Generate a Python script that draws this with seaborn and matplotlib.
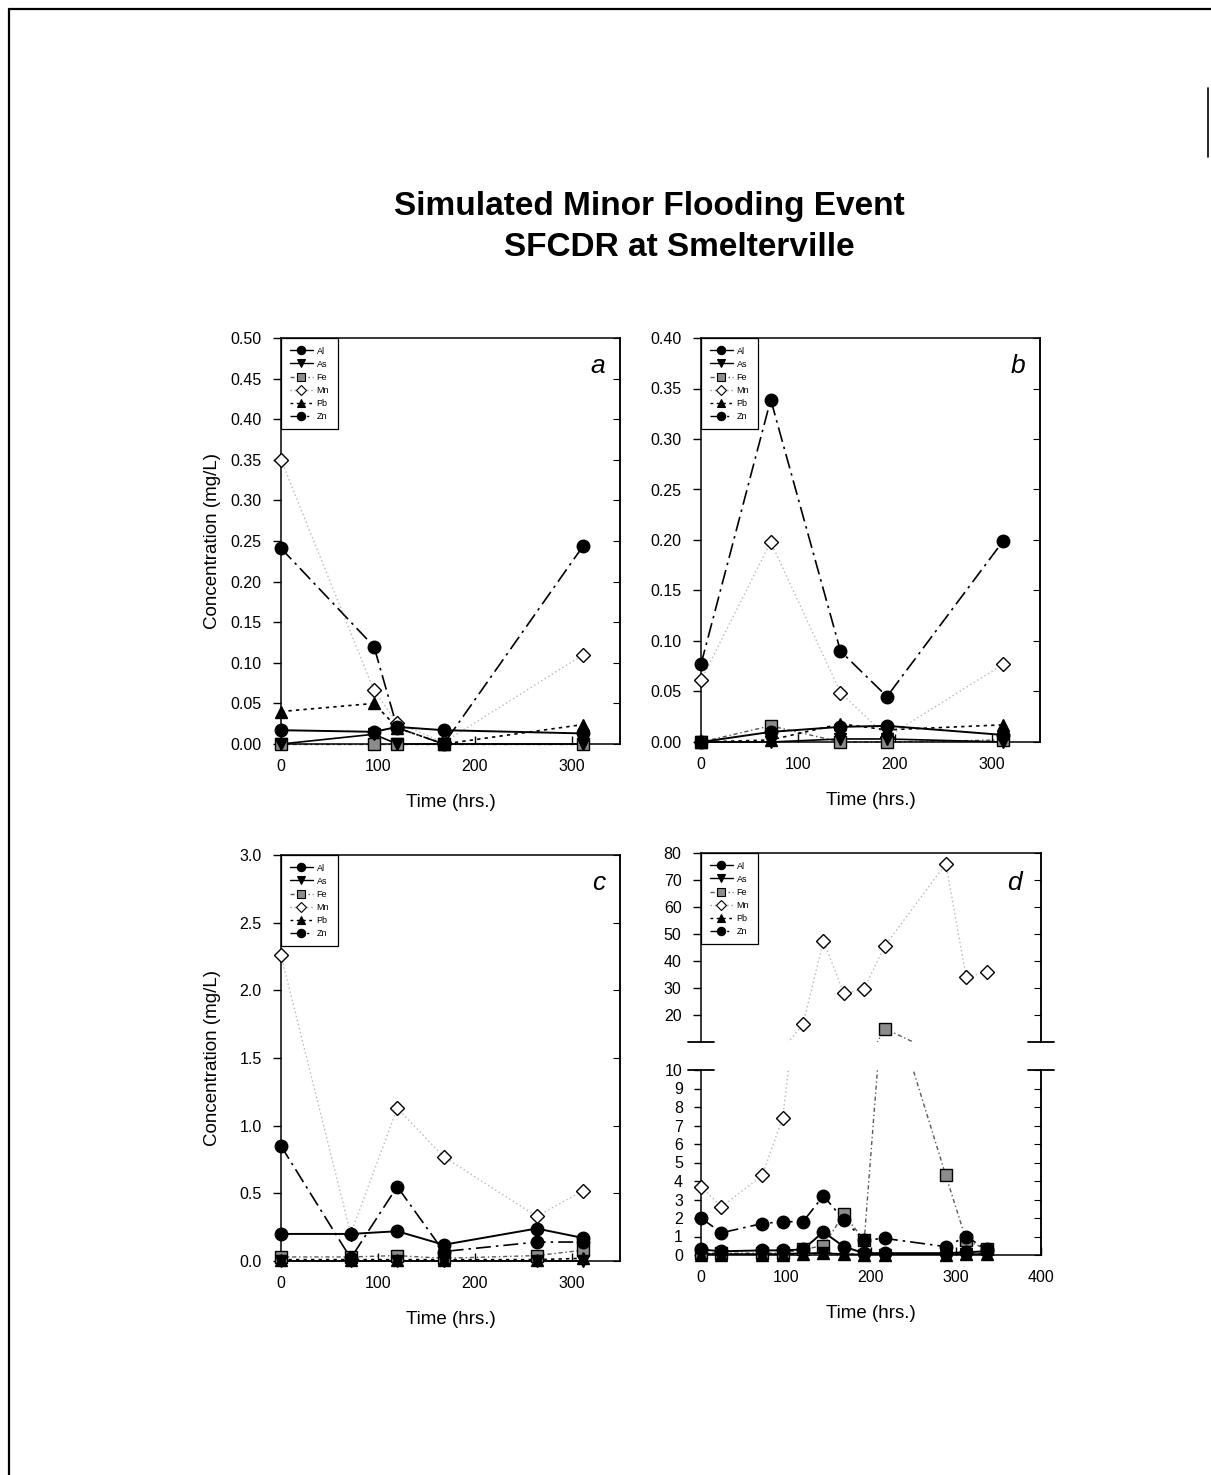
import numpy as np
import matplotlib
matplotlib.use("Agg")
import matplotlib.pyplot as plt
import seaborn as sns
from matplotlib.lines import Line2D

sns.set_style("ticks")
plt.rcParams["font.family"] = ["Liberation Sans", "DejaVu Sans"]
plt.rcParams["axes.linewidth"] = 1.1
for k in ["text.color", "axes.labelcolor", "xtick.color", "ytick.color", "axes.edgecolor"]:
    plt.rcParams[k] = "black"

# ---------------- data ----------------
elements = ["Al", "As", "Fe", "Mn", "Pb", "Zn"]

a_time = [0, 96, 120, 168, 312]
a_al = [0.017, 0.015, 0.021, 0.017, 0.013]
a_as = [0.0, 0.012, 0.0, 0.0, 0.0]
a_fe = [0.0, 0.0, 0.0, 0.0, 0.0]
a_mn = [0.350, 0.066, 0.026, 0.002, 0.110]
a_pb = [0.040, 0.050, 0.020, 0.0, 0.024]
a_zn = [0.241, 0.120, 0.020, 0.0, 0.244]

b_time = [0, 72, 144, 192, 312]
b_al = [0.0, 0.010, 0.015, 0.016, 0.007]
b_as = [0.0, 0.0, 0.003, 0.003, 0.0]
b_fe = [0.0, 0.016, 0.0, 0.0, 0.002]
b_mn = [0.061, 0.198, 0.049, 0.005, 0.077]
b_pb = [0.0, 0.002, 0.018, 0.012, 0.017]
b_zn = [0.077, 0.339, 0.090, 0.045, 0.199]

c_time = [0, 72, 120, 168, 264, 312]
c_al = [0.20, 0.20, 0.22, 0.12, 0.24, 0.17]
c_as = [0.0, 0.0, 0.0, 0.0, 0.0, 0.0]
c_fe = [0.03, 0.03, 0.04, 0.02, 0.04, 0.08]
c_mn = [2.26, 0.20, 1.13, 0.77, 0.33, 0.52]
c_pb = [0.01, 0.01, 0.01, 0.01, 0.01, 0.02]
c_zn = [0.85, 0.02, 0.55, 0.07, 0.14, 0.14]

d_time = [0, 24, 72, 96, 120, 144, 168, 192, 216, 288, 312, 336]
d_al = [0.30, 0.20, 0.25, 0.25, 0.30, 1.25, 0.45, 0.10, 0.10, 0.10, 0.15, 0.20]
d_as = [0.05, 0.05, 0.05, 0.05, 0.10, 0.10, 0.05, 0.02, 0.02, 0.05, 0.05, 0.05]
d_fe = [0.10, 0.10, 0.10, 0.10, 0.30, 0.50, 2.20, 0.80, 15.0, 4.30, 0.80, 0.30]
d_mn = [3.7, 2.6, 4.3, 7.4, 16.5, 47.5, 28.0, 29.7, 45.5, 76.0, 34.0, 36.0]
d_pb = [0.02, 0.02, 0.02, 0.02, 0.05, 0.10, 0.05, 0.02, 0.02, 0.02, 0.05, 0.05]
d_zn = [2.0, 1.2, 1.7, 1.8, 1.8, 3.2, 1.9, 0.8, 0.9, 0.45, 1.0, 0.3]

# ---------------- styles ----------------
STYLE = {
    "Al": dict(marker="o", ls="-", lc="black", mfc="black", mec="black", ms=9, lw=1.4, z=6),
    "As": dict(marker="v", ls="-", lc="black", mfc="black", mec="black", ms=9, lw=1.2, z=5),
    "Fe": dict(marker="s", ls=(0, (3, 2, 1, 2)), lc="0.35", mfc="0.55", mec="black", ms=8, lw=1.0, z=4),
    "Mn": dict(marker="D", ls=(0, (1, 2)), lc="0.72", mfc="white", mec="black", ms=7.5, lw=1.0, z=3),
    "Pb": dict(marker="^", ls=(0, (2, 2.5)), lc="black", mfc="black", mec="black", ms=9, lw=1.2, z=5),
    "Zn": dict(marker="o", ls=(0, (9, 3, 1.5, 3)), lc="black", mfc="black", mec="black", ms=9, lw=1.2, z=6),
}
DRAW_ORDER = ["Mn", "Fe", "Pb", "As", "Al", "Zn"]

W, H = 1211, 1475
fig = plt.figure(figsize=(W / 100, H / 100), dpi=100)


def rect(l, r, t, b):
    return [l / W, 1 - b / H, (r - l) / W, (b - t) / H]


def draw_series(ax, t, series, ylim, clip_lines=False):
    t = np.asarray(t, float)
    for el in DRAW_ORDER:
        v = np.asarray(series[el], float)
        st = STYLE[el]
        sns.lineplot(x=t, y=v, ax=ax, color=st["lc"], linestyle=st["ls"], linewidth=st["lw"],
                     errorbar=None, estimator=None, sort=False, legend=False,
                     clip_on=clip_lines, zorder=2)
        m = (v >= ylim[0]) & (v <= ylim[1])
        if m.any():
            sns.lineplot(x=t[m], y=v[m], ax=ax, linestyle="none", marker=st["marker"],
                         markersize=st["ms"], markerfacecolor=st["mfc"],
                         markeredgecolor=st["mec"], markeredgewidth=1.0, color=st["mec"],
                         errorbar=None, estimator=None, sort=False, legend=False,
                         clip_on=False, zorder=st["z"])


def add_legend(ax):
    handles = []
    for el in elements:
        st = STYLE[el]
        handles.append(Line2D([0], [0], color=st["lc"] if el != "Mn" else "0.6",
                              linestyle=st["ls"], linewidth=1.0,
                              marker=st["marker"], markersize=6 if el != "Mn" else 5.5,
                              markerfacecolor=st["mfc"], markeredgecolor=st["mec"],
                              markeredgewidth=0.8))
    leg = ax.legend(handles, elements, loc="upper left", bbox_to_anchor=(0, 1),
                    borderaxespad=0, fontsize=6.5, frameon=True, fancybox=False,
                    edgecolor="black", framealpha=1, handlelength=2.6,
                    labelspacing=0.45, handletextpad=0.4, borderpad=0.95)
    leg.get_frame().set_linewidth(0.9)
    leg.set_zorder(20)


def style_axes(ax, yticks, fmt, ylabel=True, xlabel=True, xticks=(0, 100, 200, 300)):
    ax.set_yticks(yticks)
    ax.set_yticklabels([fmt.format(v) for v in yticks])
    ax.set_xticks(xticks)
    ax.set_xticklabels([str(v) for v in xticks])
    ax.tick_params(axis="y", direction="out", length=6, width=1.0, pad=8, labelsize=11.5)
    ax.tick_params(axis="x", direction="in", length=6, width=1.0, pad=10.5, labelsize=11.5)
    if xlabel:
        ax.set_xlabel("Time (hrs.)", fontsize=13.5, labelpad=15)
    else:
        ax.set_xlabel("")
    if ylabel:
        ax.set_ylabel("Concentration (mg/L)", fontsize=13.5)
        ax.yaxis.set_label_coords((221 - 281) / 339, 0.5)
    else:
        ax.set_ylabel("")
    sec = ax.secondary_yaxis("right")
    sec.set_yticks(yticks)
    sec.tick_params(direction="in", length=5, width=0.8, labelright=False)
    sec.spines["right"].set_linewidth(1.1)


panels = [
    ("a", rect(281, 620, 338, 744), a_time,
     dict(Al=a_al, As=a_as, Fe=a_fe, Mn=a_mn, Pb=a_pb, Zn=a_zn),
     (0, 0.5), np.round(np.arange(0, 0.501, 0.05), 2), "{:.2f}", True),
    ("b", rect(701, 1040, 338, 742), b_time,
     dict(Al=b_al, As=b_as, Fe=b_fe, Mn=b_mn, Pb=b_pb, Zn=b_zn),
     (0, 0.4), np.round(np.arange(0, 0.401, 0.05), 2), "{:.2f}", False),
    ("c", rect(281, 620, 855, 1261), c_time,
     dict(Al=c_al, As=c_as, Fe=c_fe, Mn=c_mn, Pb=c_pb, Zn=c_zn),
     (0, 3.0), np.round(np.arange(0, 3.01, 0.5), 1), "{:.1f}", True),
]

for letter, r, t, series, ylim, yt, fmt, ylab in panels:
    ax = fig.add_axes(r)
    draw_series(ax, t, series, ylim)
    ax.set_xlim(0, 350)
    ax.set_ylim(*ylim)
    style_axes(ax, yt, fmt, ylabel=ylab)
    add_legend(ax)
    ax.text(0.957, 0.931, letter, transform=ax.transAxes, ha="right", va="center",
            fontsize=19, style="italic")

# ---- panel d : broken y axis ----
d_series = dict(Al=d_al, As=d_as, Fe=d_fe, Mn=d_mn, Pb=d_pb, Zn=d_zn)
axu = fig.add_axes(rect(701, 1041, 853, 1042))
axl = fig.add_axes(rect(701, 1041, 1070, 1255))
draw_series(axu, d_time, d_series, (10, 80), clip_lines=True)
draw_series(axl, d_time, d_series, (0, 10), clip_lines=True)
for ax in (axu, axl):
    ax.set_xlim(0, 400)
axu.set_ylim(10, 80)
axl.set_ylim(0, 10)

uy = list(range(20, 81, 10))
axu.set_yticks(uy)
axu.set_yticklabels([str(v) for v in uy])
axu.tick_params(axis="y", direction="out", length=6, width=1.0, pad=8, labelsize=11.5)
axu.set_xticks([])
axu.spines["bottom"].set_visible(False)
axu.set_xlabel("")
axu.set_ylabel("")
secu = axu.secondary_yaxis("right")
secu.set_yticks(uy)
secu.tick_params(direction="in", length=5, width=0.8, labelright=False)

ly = list(range(0, 11))
axl.spines["top"].set_visible(False)
style_axes(axl, ly, "{:d}", ylabel=False, xticks=(0, 100, 200, 300, 400))
axl.tick_params(axis="y", length=5)

add_legend(axu)
axu.text(0.944, 0.84, "d", transform=axu.transAxes, ha="right", va="center",
         fontsize=19, style="italic")

# break marks
dx = 13 / 340
for ax, yy in ((axu, 0), (axl, 1)):
    for x0 in (0, 1):
        ax.plot([x0 - dx, x0 + dx], [yy, yy], transform=ax.transAxes, color="black",
                lw=1.3, clip_on=False, zorder=10)

# ---- title ----
fig.text(649.5 / W, 1 - 207 / H, "Simulated Minor Flooding Event", ha="center", va="center",
         fontsize=24, fontweight="bold")
fig.text(679.5 / W, 1 - 247 / H, "SFCDR at Smelterville", ha="center", va="center",
         fontsize=24, fontweight="bold")

# ---- scanned page frame ----
fig.add_artist(Line2D([9 / W, 1], [1 - 9 / H, 1 - 9 / H], color="black", lw=1.6))
fig.add_artist(Line2D([9 / W, 9 / W], [1 - 9 / H, 0], color="black", lw=1.6))
fig.add_artist(Line2D([1208 / W, 1208 / W], [1 - 88 / H, 1 - 157 / H], color="black", lw=1.2))

fig.savefig("out.png", dpi=100)
